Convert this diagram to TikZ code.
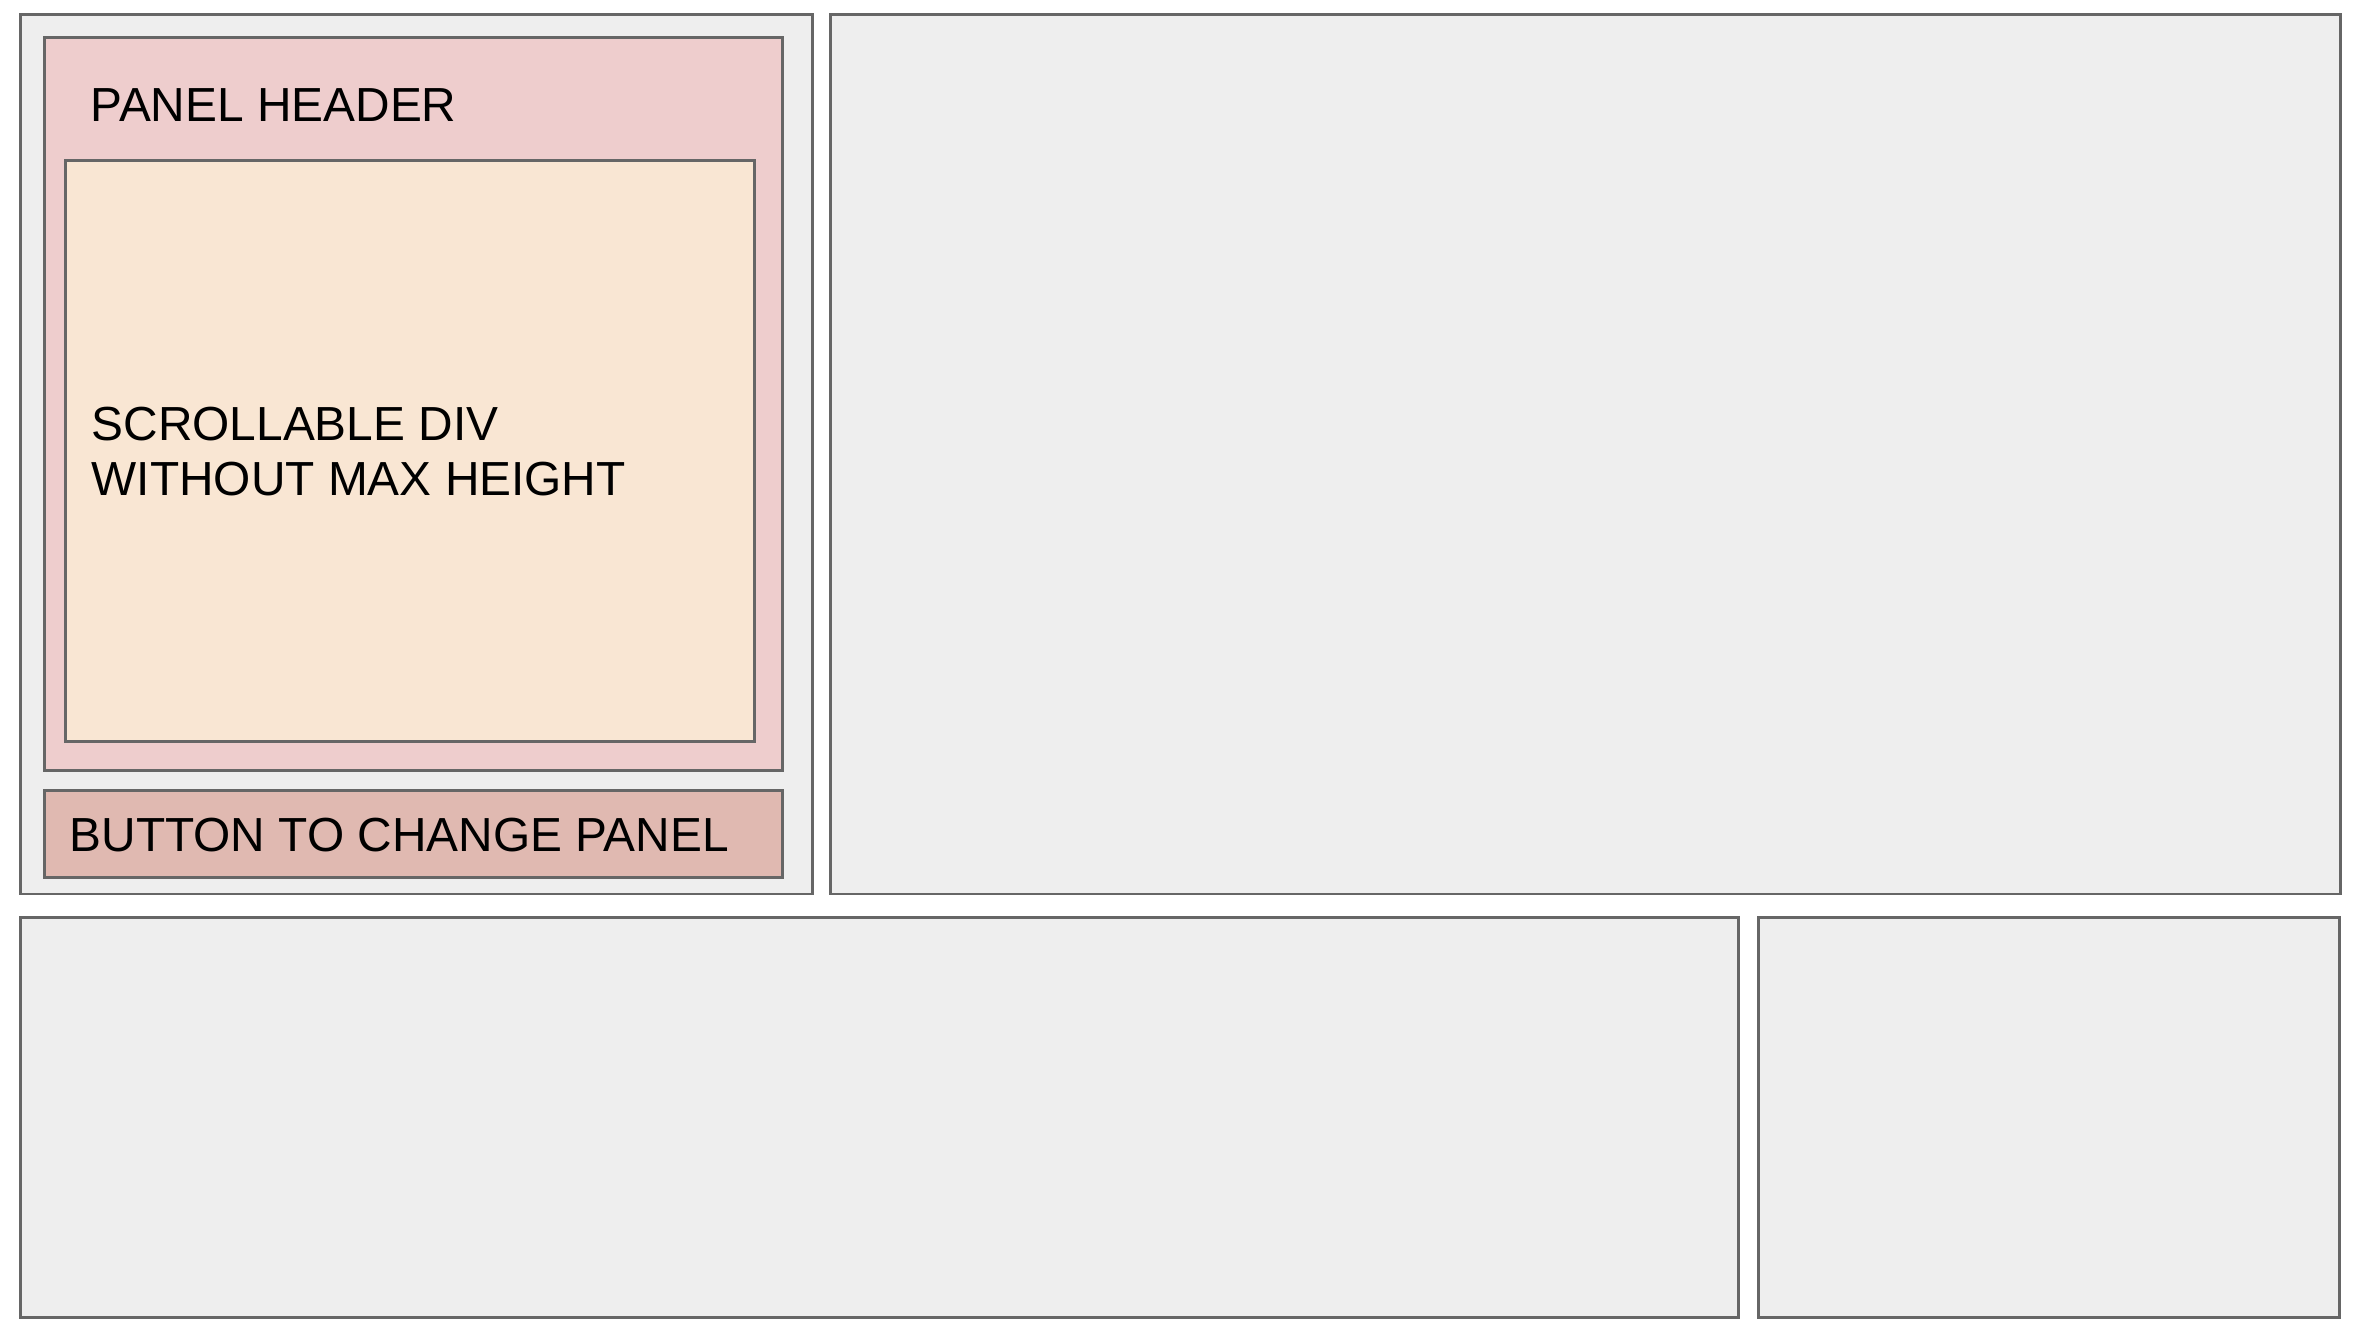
\documentclass[tikz,border=0pt]{standalone}
\usepackage{fontspec}
\setmainfont{Liberation Sans}
\usepackage{tikz}
\usetikzlibrary{positioning}

\definecolor{areagrey}{HTML}{EEEEEE}
\definecolor{edgegrey}{HTML}{666666}
\definecolor{panelpink}{HTML}{EECDCD}
\definecolor{scrollcream}{HTML}{F9E6D3}
\definecolor{buttonrose}{HTML}{E0B9B1}

\begin{document}
\begin{tikzpicture}[x=0.01cm,y=-0.01cm,
    box/.style={draw=edgegrey,line width=0.75pt,anchor=north west,inner sep=0pt},
    label/.style={anchor=base west,inner sep=0pt,align=left,
      font=\fontsize{13.6pt}{15.8pt}\selectfont}]
      \useasboundingbox (0,0) rectangle (2354,1328);
      \node[box,fill=areagrey,minimum width=7.92cm,minimum height=8.79cm] (side) at (19,13) {};
      \node[box,fill=areagrey,minimum width=15.09cm,minimum height=8.79cm] (main) at (829,13) {};
      \node[box,fill=panelpink,minimum width=7.38cm,minimum height=7.33cm] (panel) at (43,36) {};
      \node[box,fill=scrollcream,minimum width=6.89cm,minimum height=5.81cm] (scroll) at (64,159) {};
      \node[box,fill=buttonrose,minimum width=7.38cm,minimum height=0.87cm] (button) at (43,789) {};
      \node[box,fill=areagrey,minimum width=17.17cm,minimum height=4cm] (footer) at (19,916) {};
      \node[box,fill=areagrey,minimum width=5.81cm,minimum height=4cm] (corner) at (1757,916) {};
      \node[label] (panelText) at (90,122) {PANEL HEADER};
      \node[label] (scrollText) at (91,496) {SCROLLABLE DIV\\WITHOUT MAX HEIGHT};
      \node[label] (buttonText) at (69,852) {BUTTON TO CHANGE PANEL};
    \end{tikzpicture}
\end{document}
